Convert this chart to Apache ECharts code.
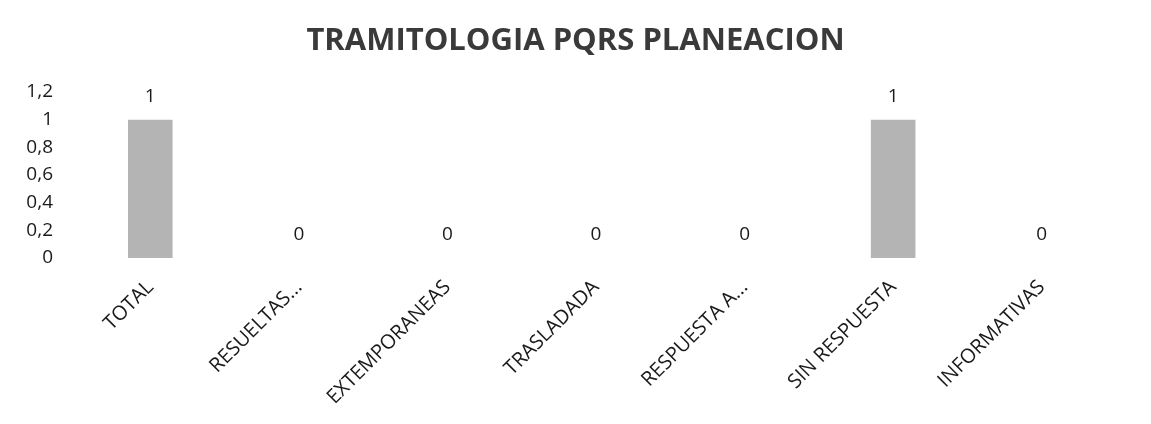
<!DOCTYPE html>
<html>
<head>
<meta charset="utf-8">
<script src="https://cdn.jsdelivr.net/npm/echarts@6/dist/echarts.min.js"></script>
<style>html,body{margin:0;padding:0;background:#fff;}#c{width:1151px;height:424px;}</style>
</head>
<body>
<div id="c"></div>
<script>
const titleText = 'TRAMITOLOGIA PQRS PLANEACION';
const categories = ['TOTAL', 'RESUELTAS...', 'EXTEMPORANEAS', 'TRASLADADA', 'RESPUESTA A...', 'SIN RESPUESTA', 'INFORMATIVAS'];
const values = [1, 0, 0, 0, 0, 1, 0];
const yTicks = { min: 0, max: 1.2, interval: 0.2 };

const font = 'Open Sans';
const chart = echarts.init(document.getElementById('c'));
chart.setOption({
  animation: false,
  backgroundColor: '#ffffff',
  title: {
    text: titleText,
    left: 'center',
    top: 21,
    textStyle: { fontFamily: font, fontWeight: 'bold', fontSize: 31, color: '#3a3a3a' }
  },
  grid: { left: 76, right: 35, top: 92, bottom: 166 },
  xAxis: {
    type: 'category',
    data: categories,
    axisLine: { show: false },
    axisTick: { show: false },
    axisLabel: { rotate: 45, margin: 26, fontFamily: font, fontSize: 20, color: '#1a1a1a', interval: 0 }
  },
  yAxis: {
    type: 'value',
    min: yTicks.min, max: yTicks.max, interval: yTicks.interval,
    splitLine: { show: false },
    axisLine: { show: false },
    axisTick: { show: false },
    axisLabel: {
      margin: 23, fontFamily: font, fontSize: 19, color: '#1a1a1a',
      formatter: v => String(Math.round(v * 10) / 10).replace('.', ',')
    }
  },
  series: [{
    type: 'bar',
    data: values,
    barWidth: '30%',
    itemStyle: { color: '#b4b4b4' },
    label: {
      show: true, position: 'top', distance: 14,
      fontFamily: font, fontSize: 19, color: '#1a1a1a'
    }
  }]
});
</script>
</body>
</html>
